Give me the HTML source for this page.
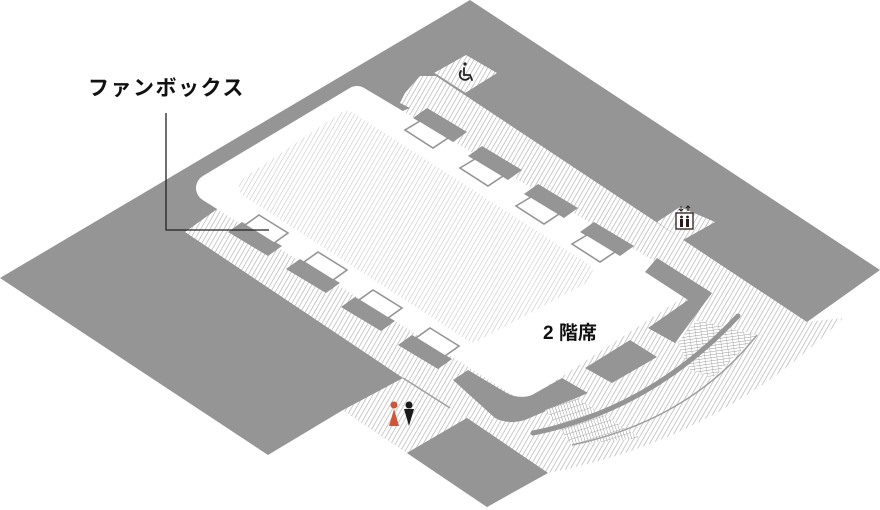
<!DOCTYPE html>
<html><head><meta charset="utf-8"><style>
html,body{margin:0;padding:0;background:#fff;}
svg{display:block}
</style></head><body>
<svg width="880" height="510" viewBox="0 0 880 510" xmlns="http://www.w3.org/2000/svg">
<defs>
<pattern id="h" width="4" height="4" patternUnits="userSpaceOnUse" patternTransform="rotate(30)">
<rect width="4" height="4" fill="#fff"/><line x1="0" y1="0" x2="0" y2="4" stroke="#b4b4b4" stroke-width="1.4"/></pattern>
<pattern id="f" width="4" height="4" patternUnits="userSpaceOnUse" patternTransform="rotate(30)">
<rect width="4" height="4" fill="#fff"/><line x1="0" y1="0" x2="0" y2="4" stroke="#c4c4c4" stroke-width="1.1"/></pattern>
<pattern id="st" width="6" height="3" patternUnits="userSpaceOnUse" patternTransform="rotate(-8)">
<rect width="6" height="3" fill="#fff"/><line x1="0" y1="0" x2="6" y2="0" stroke="#9a9a9a" stroke-width="1"/><line x1="0" y1="0" x2="0" y2="3" stroke="#9a9a9a" stroke-width="0.8"/></pattern>
<pattern id="st2" width="3" height="6" patternUnits="userSpaceOnUse" patternTransform="rotate(-18)">
<rect width="3" height="6" fill="#fff"/><line x1="0" y1="0" x2="0" y2="6" stroke="#9a9a9a" stroke-width="1"/><line x1="0" y1="0" x2="3" y2="0" stroke="#9a9a9a" stroke-width="0.8"/></pattern>
</defs>
<polygon points="470,0 880,270 807,322 487,507 407,453 343,410 268,455 0,278" fill="#959595"/>
<path d="M405,93 L420,76 L436,76 L807,322 L843,318 Q720,440 548,473 L467,418 L407,453 L343,410 L403,378 L185,232 L220,207 L300,150 L380,120 L410,108 L400,103 Z" fill="url(#h)"/>
<polygon points="434,73 466,55 497,73 465,93" fill="url(#h)"/>
<line x1="434" y1="73" x2="465" y2="93" stroke="#a0a0a0" stroke-width="1"/>
<polygon points="657,222 680,207 715,222 683,240" fill="url(#h)"/>
<line x1="403" y1="378" x2="450" y2="408" stroke="#a0a0a0" stroke-width="1.5"/>
<polygon points="357,100 672,288 523,385 210,188" fill="#fff" stroke="#fff" stroke-width="28" stroke-linejoin="round"/>
<polygon points="347,122 582,273 473,331 250,187" fill="url(#f)" stroke="url(#f)" stroke-width="22" stroke-linejoin="round"/>
<g fill="#959595">
<polygon points="427,108 467,132 453,142 413,118"/>
<polygon points="482,146 522,170 508,180 468,156"/>
<polygon points="538,184 578,208 564,218 524,194"/>
<polygon points="594,222 634,246 620,256 580,232"/>
</g>
<g fill="#fff" stroke="#959595" stroke-width="1.6">
<polygon points="420,121 448,138 433,148 405,130"/>
<polygon points="475,159 503,176 488,186 460,168"/>
<polygon points="531,197 559,214 544,224 516,206"/>
<polygon points="587,235 615,252 600,262 572,244"/>
</g>
<g fill="#959595">
<polygon points="242,222 282,246 268,256 228,232"/>
<polygon points="300,259 340,283 326,293 286,269"/>
<polygon points="355,297 395,321 381,331 341,307"/>
<polygon points="412,335 452,359 438,369 398,345"/>
</g>
<g fill="#fff" stroke="#959595" stroke-width="1.6">
<polygon points="259,215 288,233 274,243 245,225"/>
<polygon points="318,252 347,270 333,280 304,262"/>
<polygon points="373,290 402,308 388,318 359,300"/>
<polygon points="430,328 459,346 445,356 416,338"/>
</g>
<g fill="#959595">
<polygon points="657,258 712,293 675,343 648,328 688,300 645,272"/>
<polygon points="585,368 630,340 657,357 612,383"/>
<path d="M453,380 L468,370 L505,392 Q518,400 532,395 L562,378 L588,393 L525,420 Q508,425 495,418 Z"/>
<polygon points="467,418 548,473 487,507 407,453"/>
</g>
<polygon points="678,342 697,320 757,335 712,378 690,370" fill="url(#st)"/>
<polygon points="545,410 577,398 640,438 572,445" fill="url(#st2)"/>
<path d="M533,433 Q650,410 738,316" fill="none" stroke="#959595" stroke-width="5" stroke-linecap="round"/>
<path d="M572,445 Q690,420 757,335" fill="none" stroke="#a0a0a0" stroke-width="1.5"/>
<text x="88" y="95" font-family="'Liberation Sans','Noto Sans CJK JP',sans-serif" font-size="21" font-weight="bold" letter-spacing="1.5" fill="#111">ファンボックス</text>
<polyline points="166,113 166,230 269,230" fill="none" stroke="#222" stroke-width="1.3"/>
<text x="543" y="339" font-family="'Liberation Sans','Noto Sans CJK JP',sans-serif" font-size="19" font-weight="bold" fill="#111">2 階席</text>
<g fill="none" stroke="#222" stroke-width="1.8" stroke-linecap="round">
<circle cx="465" cy="64" r="1.6" fill="#222" stroke="none"/>
<path d="M464,68 L464,75 L470,75 L472,80"/>
<path d="M461,71 A5,5 0 1 0 469,78"/>
</g>
<rect x="676" y="213" width="17" height="16" fill="#fff" stroke="#2a1a1a" stroke-width="1.3"/>
<circle cx="681.5" cy="217" r="1.4" fill="#2a1a1a"/><rect x="680" y="219" width="3" height="8" fill="#2a1a1a"/>
<circle cx="687.5" cy="217" r="1.4" fill="#2a1a1a"/><rect x="686" y="219" width="3" height="8" fill="#2a1a1a"/>
<path d="M681,206 L681,211 M679,209 L681,211 L683,209 M688,211 L688,206 M686,208 L688,206 L690,208" stroke="#2a1a1a" stroke-width="1" fill="none"/>
<circle cx="394" cy="405" r="3.5" fill="#d0553a"/>
<polygon points="394,409 389,426 399,426" fill="#d0553a"/>
<circle cx="409" cy="405" r="3.5" fill="#1a1a1a"/>
<polygon points="404,409 414,409 409,426" fill="#1a1a1a"/>
</svg>
</body></html>
